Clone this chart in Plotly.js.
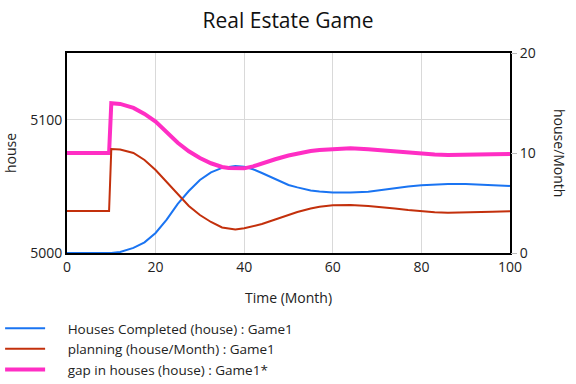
<!DOCTYPE html>
<html>
<head>
<meta charset="utf-8">
<script src="https://cdn.plot.ly/plotly-3.0.1.min.js"></script>
<style>html,body{margin:0;padding:0;background:#fff;}#chart{width:576px;height:384px;}</style>
</head>
<body>
<div id="chart"></div>
<script>
var time = [0, 9.5, 10, 12, 15, 17.5, 20, 22.5, 25, 27.5, 30, 32.5, 35, 36.5, 38, 40, 42, 44, 47, 50, 52, 55, 57, 60, 64, 68, 71, 74, 77, 80, 83, 86, 90, 93, 96, 100];
var housesCompleted = [5000, 5000, 5000, 5000.8, 5003.8, 5008, 5015, 5025, 5036.8, 5046.5, 5054.8, 5060.5, 5063.8, 5064.6, 5065.3, 5064.7, 5062.8, 5060, 5055.5, 5051, 5049.2, 5046.9, 5046.2, 5045.4, 5045.4, 5046, 5047.3, 5048.8, 5049.9, 5050.8, 5051.4, 5051.8, 5051.8, 5051.5, 5051.0, 5050.3];
var planning = [4.2, 4.2, 10.4, 10.35, 10.0, 9.3, 8.3, 7.1, 5.8, 4.7, 3.8, 3.1, 2.55, 2.43, 2.35, 2.47, 2.65, 2.9, 3.35, 3.8, 4.1, 4.45, 4.62, 4.77, 4.8, 4.7, 4.6, 4.45, 4.3, 4.17, 4.08, 4.03, 4.04, 4.07, 4.12, 4.17];
var gapInHouses = [5075, 5075, 5112.3, 5111.8, 5108.8, 5104.3, 5098.5, 5090.5, 5082.7, 5076.3, 5071.3, 5067.3, 5064.5, 5063.8, 5063.4, 5063.5, 5065, 5067.3, 5070.3, 5073.1, 5074.7, 5076.5, 5077.3, 5078, 5078.5, 5077.8, 5077, 5076, 5075.1, 5074.3, 5073.8, 5073.5, 5073.5, 5073.7, 5074, 5074.3];
var names = ["Houses Completed (house) : Game1", "planning (house/Month) : Game1", "gap in houses (house) : Game1*"];
var xTicks = [0, 20, 40, 60, 80, 100];

var F = "Open Sans, Noto Sans, sans-serif";
var pad = "\u00a0\u00a0\u00a0\u00a0\u00a0";
var traces = [
  {x: time, y: housesCompleted, name: pad + names[0], mode: "lines", line: {color: "#1a74f2", width: 2}, yaxis: "y"},
  {x: time, y: planning, name: pad + names[1], mode: "lines", line: {color: "#c3300c", width: 2}, yaxis: "y2"},
  {x: time, y: gapInHouses, name: pad + names[2], mode: "lines", line: {color: "#ff2ec4", width: 4}, yaxis: "y"}
];
var layout = {
  width: 576, height: 384,
  margin: {l: 67, r: 66, t: 53, b: 131, autoexpand: false},
  paper_bgcolor: "#fff", plot_bgcolor: "#fff",
  font: {family: F, size: 14, color: "#222"},
  title: {text: "Real Estate Game", font: {family: F, size: 21, color: "#111"}, x: 0.5, xanchor: "center", y: 0.945, yanchor: "middle"},
  showlegend: true,
  legend: {orientation: "v", x: -0.151, xanchor: "left", y: -0.30, yanchor: "top", font: {family: F, size: 13.5, color: "#222"}, itemwidth: 40, tracegroupgap: 0, bgcolor: "rgba(0,0,0,0)"},
  xaxis: {range: [0, 100], tickvals: xTicks, showgrid: true, gridcolor: "#d9d9d9", gridwidth: 1, zeroline: false,
          showline: true, linecolor: "#000", linewidth: 2, mirror: true, ticks: "", tickfont: {size: 14},
          title: {text: "Time (Month)", font: {size: 14}, standoff: 18}},
  yaxis: {range: [5000, 5150], dtick: 100, tick0: 5000, showgrid: true, gridcolor: "#d9d9d9", zeroline: false,
          showline: true, linecolor: "#000", linewidth: 2, mirror: true, ticks: "", tickfont: {size: 14},
          title: {text: "house", font: {size: 14}, standoff: 10}},
  yaxis2: {range: [0, 20], dtick: 10, tick0: 0, overlaying: "y", side: "right", showgrid: false, zeroline: false,
           showline: false, ticks: "outside", ticklen: 6, tickcolor: "#bbb", tickfont: {size: 14}},
  annotations: [{text: "house/Month", textangle: 90, x: 1.0, xref: "paper", xanchor: "center", xshift: 50, y: 0.5, yref: "paper", yanchor: "middle", showarrow: false, font: {family: F, size: 14, color: "#222"}}]
};
Plotly.newPlot("chart", traces, layout, {displayModeBar: false, staticPlot: true});
</script>
</body>
</html>
